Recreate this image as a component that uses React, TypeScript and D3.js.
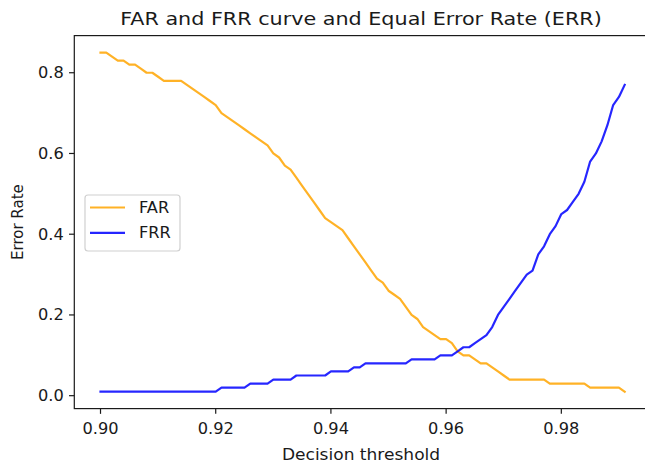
import React from "react";
import * as d3 from "d3";

const thresholds: number[] = d3.range(92).map((i) => +(0.9 + i * 0.001).toFixed(3));

const farValues: number[] = [
  0.85, 0.85, 0.84, 0.83, 0.83, 0.82, 0.82, 0.81, 0.80, 0.80,
  0.79, 0.78, 0.78, 0.78, 0.78, 0.77, 0.76, 0.75, 0.74, 0.73,
  0.72, 0.70, 0.69, 0.68, 0.67, 0.66, 0.65, 0.64, 0.63, 0.62,
  0.60, 0.59, 0.57, 0.56, 0.54, 0.52, 0.50, 0.48, 0.46, 0.44,
  0.43, 0.42, 0.41, 0.39, 0.37, 0.35, 0.33, 0.31, 0.29, 0.28,
  0.26, 0.25, 0.24, 0.22, 0.20, 0.19, 0.17, 0.16, 0.15, 0.14,
  0.14, 0.13, 0.11, 0.10, 0.10, 0.09, 0.08, 0.08, 0.07, 0.06,
  0.05, 0.04, 0.04, 0.04, 0.04, 0.04, 0.04, 0.04, 0.03, 0.03,
  0.03, 0.03, 0.03, 0.03, 0.03, 0.02, 0.02, 0.02, 0.02, 0.02,
  0.02, 0.01,
];

const frrValues: number[] = [
  0.01, 0.01, 0.01, 0.01, 0.01, 0.01, 0.01, 0.01, 0.01, 0.01,
  0.01, 0.01, 0.01, 0.01, 0.01, 0.01, 0.01, 0.01, 0.01, 0.01,
  0.01, 0.02, 0.02, 0.02, 0.02, 0.02, 0.03, 0.03, 0.03, 0.03,
  0.04, 0.04, 0.04, 0.04, 0.05, 0.05, 0.05, 0.05, 0.05, 0.05,
  0.06, 0.06, 0.06, 0.06, 0.07, 0.07, 0.08, 0.08, 0.08, 0.08,
  0.08, 0.08, 0.08, 0.08, 0.09, 0.09, 0.09, 0.09, 0.09, 0.10,
  0.10, 0.10, 0.11, 0.12, 0.12, 0.13, 0.14, 0.15, 0.17, 0.20,
  0.22, 0.24, 0.26, 0.28, 0.30, 0.31, 0.35, 0.37, 0.40, 0.42,
  0.45, 0.46, 0.48, 0.50, 0.53, 0.58, 0.60, 0.63, 0.67, 0.72,
  0.74, 0.77,
];

const xTicks: number[] = [0.9, 0.92, 0.94, 0.96, 0.98];
const yTicks: number[] = [0.0, 0.2, 0.4, 0.6, 0.8];

const seriesNames: string[] = ["FAR", "FRR"];
const seriesColors: string[] = ["#ffa500", "#0000ff"];

const W = 645;
const H = 464;
const FONT = "'DejaVu Sans', sans-serif";
const SX = 1.08;

function T(props: {
  x: number;
  y: number;
  size: number;
  sx?: number;
  anchor?: "start" | "middle" | "end";
  dy?: string;
  children: React.ReactNode;
}) {
  const { x, y, size, sx = SX, anchor = "start", dy, children } = props;
  return (
    <text
      transform={`translate(${x},${y}) scale(${sx},1)`}
      textAnchor={anchor}
      dy={dy}
      fontSize={size}
      fill="#1a1a1a"
    >
      {children}
    </text>
  );
}

export default function App() {
  const left = 74.3;
  const right = 650.9;
  const top = 35.6;
  const bottom = 408.6;

  const x = d3.scaleLinear().domain([0.89545, 0.99555]).range([left, right]);
  const y = d3.scaleLinear().domain([-0.032, 0.892]).range([bottom, top]);

  const line = d3
    .line<number>()
    .x((_, i) => x(thresholds[i]))
    .y((d) => y(d));

  const series = [farValues, frrValues];
  const ink = "#1a1a1a";
  const cx = 361;

  return (
    <svg
      width={W}
      height={H}
      style={{ position: "fixed", top: 0, left: 0, background: "#fff" }}
      fontFamily={FONT}
    >
      <rect x={0} y={0} width={W} height={H} fill="#fff" />
      <T x={cx} y={25} size={18.5} sx={1.12} anchor="middle">
        FAR and FRR curve and Equal Error Rate (ERR)
      </T>

      {series.map((vals, k) => (
        <path
          key={k}
          d={line(vals) || ""}
          fill="none"
          stroke={seriesColors[k]}
          strokeWidth={2.2}
          strokeLinejoin="round"
          strokeLinecap="square"
          opacity={0.85}
        />
      ))}

      <rect x={left} y={top} width={right - left} height={bottom - top} fill="none" stroke={ink} strokeWidth={1.2} />

      {xTicks.map((t) => (
        <g key={"x" + t}>
          <line x1={x(t)} x2={x(t)} y1={bottom} y2={bottom + 5.25} stroke={ink} strokeWidth={1.2} />
          <T x={x(t)} y={434} size={15} anchor="middle">
            {t.toFixed(2)}
          </T>
        </g>
      ))}
      {yTicks.map((t) => (
        <g key={"y" + t}>
          <line x1={left - 5.25} x2={left} y1={y(t)} y2={y(t)} stroke={ink} strokeWidth={1.2} />
          <T x={left - 10.5} y={y(t)} dy="0.36em" size={15} anchor="end">
            {t.toFixed(1)}
          </T>
        </g>
      ))}

      <T x={cx} y={460} size={15.5} sx={1.1} anchor="middle">
        Decision threshold
      </T>
      <text
        transform={`translate(23, ${(top + bottom) / 2}) rotate(-90) scale(1,${SX})`}
        textAnchor="middle"
        fontSize={15}
        fill={ink}
      >
        Error Rate
      </text>

      <g>
        <rect x={85} y={195} width={95} height={56} rx={3} fill="#fff" fillOpacity={0.8} stroke="#d0d0d0" strokeWidth={1.2} />
        {seriesNames.map((name, k) => (
          <g key={name}>
            <line
              x1={90}
              x2={125}
              y1={207.5 + k * 25.3}
              y2={207.5 + k * 25.3}
              stroke={seriesColors[k]}
              strokeWidth={2.2}
              opacity={0.85}
            />
            <T x={139} y={207.5 + k * 25.3} dy="0.36em" size={15}>
              {name}
            </T>
          </g>
        ))}
      </g>
    </svg>
  );
}
